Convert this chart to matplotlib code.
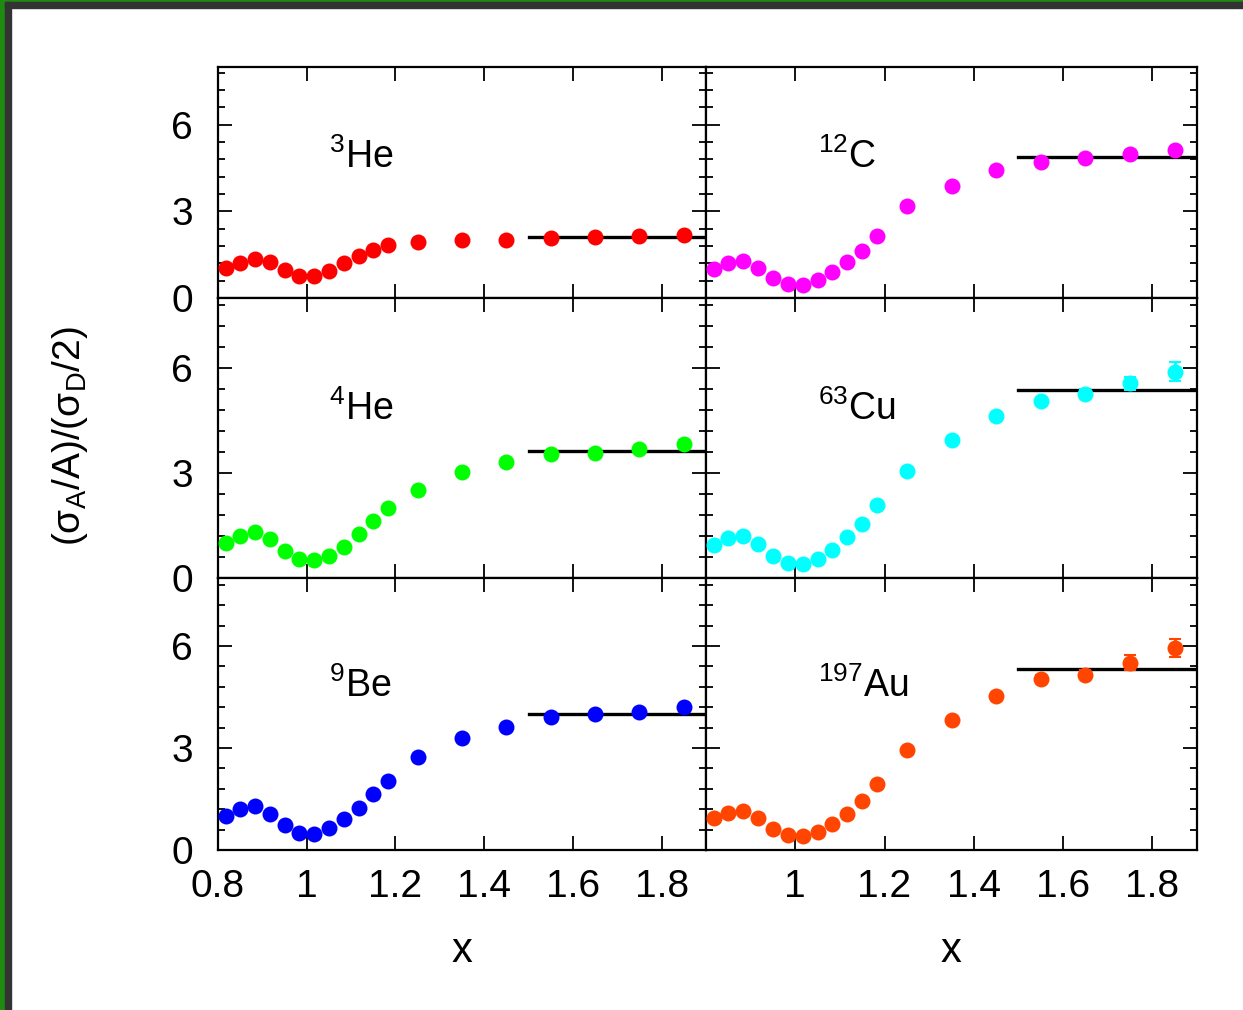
import numpy as np
import matplotlib
matplotlib.use("Agg")
import matplotlib.pyplot as plt
from matplotlib.patches import Rectangle
from matplotlib.ticker import MultipleLocator

plt.rcParams["font.family"] = ["Liberation Sans", "DejaVu Sans"]
plt.rcParams["mathtext.fontset"] = "custom"
plt.rcParams["mathtext.rm"] = "Liberation Sans"
plt.rcParams["mathtext.it"] = "Liberation Sans"
plt.rcParams["mathtext.bf"] = "Liberation Sans:bold"
plt.rcParams["mathtext.default"] = "regular"

# Bjorken x bins
x = [0.817, 0.85, 0.883, 0.917, 0.95, 0.983, 1.017, 1.05, 1.083, 1.117,
     1.15, 1.183, 1.25, 1.35, 1.45, 1.55, 1.65, 1.75, 1.85]

# per-nucleon cross-section ratios to deuterium
he3 = [1.03, 1.21, 1.35, 1.24, 0.97, 0.76, 0.76, 0.94, 1.20, 1.46,
       1.66, 1.84, 1.93, 2.02, 2.02, 2.09, 2.11, 2.15, 2.18]
he4 = [1.00, 1.21, 1.31, 1.11, 0.76, 0.54, 0.51, 0.62, 0.89, 1.25,
       1.64, 2.00, 2.51, 3.02, 3.31, 3.54, 3.57, 3.70, 3.84]
be9 = [1.01, 1.20, 1.29, 1.07, 0.74, 0.51, 0.48, 0.64, 0.90, 1.25,
       1.64, 2.02, 2.75, 3.29, 3.63, 3.90, 3.99, 4.06, 4.20]
c12 = [1.02, 1.22, 1.29, 1.05, 0.70, 0.50, 0.45, 0.61, 0.89, 1.25,
       1.64, 2.13, 3.19, 3.88, 4.42, 4.72, 4.84, 4.97, 5.13]
cu63 = [0.95, 1.14, 1.21, 0.97, 0.62, 0.43, 0.41, 0.54, 0.81, 1.16,
        1.55, 2.09, 3.05, 3.94, 4.63, 5.05, 5.26, 5.56, 5.90]
au197 = [0.94, 1.10, 1.15, 0.94, 0.63, 0.44, 0.40, 0.53, 0.76, 1.07,
         1.45, 1.94, 2.93, 3.82, 4.52, 5.04, 5.15, 5.51, 5.95]

# statistical errors (only visible at the largest x)
err_light = [0.02, 0.02, 0.02, 0.02, 0.02, 0.02, 0.02, 0.02, 0.02, 0.02,
             0.02, 0.03, 0.03, 0.04, 0.05, 0.06, 0.07, 0.08, 0.10]
err_cu = [0.02, 0.02, 0.02, 0.02, 0.02, 0.02, 0.02, 0.02, 0.02, 0.02,
          0.03, 0.04, 0.05, 0.06, 0.08, 0.10, 0.13, 0.18, 0.28]
err_au = [0.02, 0.02, 0.02, 0.02, 0.02, 0.02, 0.02, 0.02, 0.02, 0.02,
          0.03, 0.04, 0.05, 0.06, 0.08, 0.10, 0.13, 0.22, 0.26]

# plateau values averaged over 1.5 < x < 1.9
plateau = {"he3": 2.11, "he4": 3.64, "be9": 4.00,
           "c12": 4.88, "cu63": 5.37, "au197": 5.33}
plateau_range = [1.5, 1.9]

labels = {"he3": r"$^{3}$He", "he4": r"$^{4}$He", "be9": r"$^{9}$Be",
          "c12": r"$^{12}$C", "cu63": r"$^{63}$Cu", "au197": r"$^{197}$Au"}
colors = {"he3": "#ff0000", "he4": "#00ff00", "be9": "#0000ff",
          "c12": "#ff00ff", "cu63": "#00ffff", "au197": "#ff4500"}
series = {"he3": (he3, err_light), "he4": (he4, err_light),
          "be9": (be9, err_light), "c12": (c12, err_light),
          "cu63": (cu63, err_cu), "au197": (au197, err_au)}

W, H = 1243, 1010
fig = plt.figure(figsize=(W / 100, H / 100), dpi=100)
fig.patch.set_facecolor("white")

# window frame along the top and left edges
for (x0, y0, w, h, c) in [(0, 0, 5, H, "#1e8a10"), (0, H - 2, W, 2, "#1e8a10"),
                          (5, 0, 6, H - 2, "#333333"), (5, H - 8, W - 5, 6, "#333333")]:
    fig.patches.append(Rectangle((x0 / W, y0 / H), w / W, h / H,
                                 transform=fig.transFigure, color=c, zorder=0))

cols = [(218, 488), (706, 491)]
rows = [(67, 231), (298, 280), (578, 272)]
layout = [["he3", "c12"], ["he4", "cu63"], ["be9", "au197"]]

for r, (top, hgt) in enumerate(rows):
    for c, (left, wid) in enumerate(cols):
        key = layout[r][c]
        ax = fig.add_axes([left / W, (H - top - hgt) / H, wid / W, hgt / H])
        yv, ev = series[key]
        ax.errorbar(x, yv, yerr=ev, fmt="o", color=colors[key], ms=11.5,
                    mec="none", elinewidth=2.0, capsize=4, capthick=1.5,
                    zorder=3, clip_on=True)
        ax.plot(plateau_range, [plateau[key]] * 2, color="black", lw=2.4,
                zorder=2)
        ax.text(1.05, 4.5, labels[key], fontsize=27, ha="left",
                va="baseline")
        ax.set_xlim(0.8, 1.9)
        ax.set_ylim(0, 8)
        ax.xaxis.set_major_locator(MultipleLocator(0.2))
        ax.yaxis.set_major_locator(MultipleLocator(3))
        ax.yaxis.set_minor_locator(MultipleLocator(0.6))
        ax.tick_params(which="both", direction="in", top=True, right=True,
                       width=1.3, color="black")
        ax.tick_params(which="major", length=10, labelsize=28)
        ax.tick_params(which="minor", length=5)
        ax.tick_params(axis="y", pad=18)
        ax.tick_params(axis="x", pad=14)
        for s in ax.spines.values():
            s.set_linewidth(1.6)
        ax.set_xticks([0.8, 1.0, 1.2, 1.4, 1.6, 1.8])
        if c == 0:
            ax.set_yticks([0, 3, 6])
            ax.set_yticklabels(["0", "3", "6"])
        else:
            ax.tick_params(axis="y", labelleft=False)
        if r < 2:
            ax.tick_params(axis="x", labelbottom=False)
        else:
            if c == 0:
                ax.set_xticklabels(["0.8", "1", "1.2", "1.4", "1.6", "1.8"])
            else:
                ax.set_xticklabels(["", "1", "1.2", "1.4", "1.6", "1.8"])

for cx in (462, 951):
    fig.text(cx / W, (H - 962) / H, "x", fontsize=30, ha="center",
             va="baseline")

fig.text(70 / W, (H - 436) / H, r"$(\sigma_{A}/A)/(\sigma_{D}/2)$",
         fontsize=28, rotation=90, ha="center", va="center")

fig.savefig("out.png", dpi=100, facecolor="white")
